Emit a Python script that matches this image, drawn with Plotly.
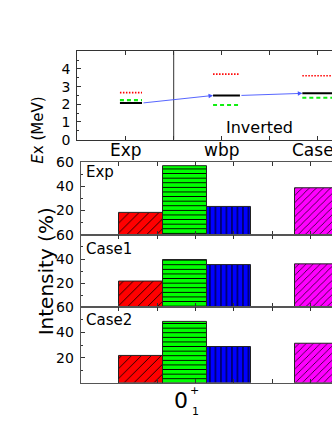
import plotly.graph_objects as go

# ---------------- data ----------------
level_cats = ["Exp", "wbp", "Case1"]
level_red = [2.66, 3.71, 3.62]      # dotted red levels (MeV)
level_green = [2.24, 1.96, 2.37]    # dashed green levels (MeV)
level_black = [2.07, 2.50, 2.62]    # solid black levels (MeV)

panel_names = ["Exp", "Case1", "Case2"]
red_vals = [18.5, 21.8, 21.8]
green_vals = [57.0, 39.6, 48.9]
blue_vals = [23.4, 35.4, 28.9]
magenta_vals = [38.8, 36.0, 31.5]

# ---------------- style ----------------
W, H = 332, 430
FONT = "DejaVu Sans, Liberation Sans, Arial"
AX = "#333333"
LEVEL_OFF0 = [-0.06, -0.09, -0.16]
LEVEL_OFF1 = [0.17, 0.19, 0.16]
BAR_POS = {"red": -1, "green": 0, "blue": 1, "magenta": 3}


def py(px):
    return 1 - px / H


fig = go.Figure()

# ----- top panel : levels -----
def seg(vals):
    xs, ys = [], []
    for i, v in enumerate(vals):
        xs += [i + LEVEL_OFF0[i], i + LEVEL_OFF1[i], None]
        ys += [v, v, None]
    return xs, ys

for vals, col, dash, w in [(level_red, "#ff0000", "1.5px,1.5px", 1.6),
                           (level_green, "#11ee11", "4px,3px", 2.2),
                           (level_black, "#000000", "solid", 2.0)]:
    xs, ys = seg(vals)
    fig.add_trace(go.Scatter(x=xs, y=ys, mode="lines", xaxis="x", yaxis="y",
                             line=dict(color=col, dash=dash, width=w),
                             showlegend=False, hoverinfo="skip"))

# arrows linking black levels
for i in range(len(level_black) - 1):
    fig.add_annotation(x=i + 1 + LEVEL_OFF0[i + 1], y=level_black[i + 1],
                       ax=i + LEVEL_OFF1[i], ay=level_black[i],
                       xref="x", yref="y", axref="x", ayref="y",
                       text="", showarrow=True, arrowhead=2, arrowsize=1,
                       arrowwidth=0.9, arrowcolor="#4455ff")

# divider
fig.add_shape(type="line", x0=0.5, x1=0.5, y0=0, y1=1, xref="x", yref="y domain",
              line=dict(color=AX, width=1))

fig.add_annotation(x=1.39, y=0.66, xref="x", yref="y", text="Inverted",
                   showarrow=False, font=dict(family=FONT, size=16, color="black"))

# category labels under the top panel
for i, c in enumerate(level_cats):
    fig.add_annotation(x=i, y=py(147.5), xref="x", yref="paper", text=c,
                       showarrow=False, yanchor="middle",
                       font=dict(family=FONT, size=17, color="black"))

# ----- bottom panels : bars -----
colors = {"red": "#ff0000", "green": "#00ff00", "blue": "#0000ff", "magenta": "#ff00ff"}
patterns = {"red": ("/", 7, 0.12), "green": ("-", 4.6, 0.2),
            "blue": ("|", 5.5, 0.18), "magenta": ("/", 5, 0.14)}
series = {"red": red_vals, "green": green_vals, "blue": blue_vals, "magenta": magenta_vals}

for p in range(3):
    xa = "x%d" % (p + 2)
    ya = "y%d" % (p + 2)
    for key in ["red", "green", "blue", "magenta"]:
        shp, sz, sol = patterns[key]
        fig.add_trace(go.Bar(x=[BAR_POS[key]], y=[series[key][p]], width=1,
                             xaxis=xa, yaxis=ya, showlegend=False, hoverinfo="skip",
                             marker=dict(color=colors[key],
                                         line=dict(color="#222222", width=1),
                                         pattern=dict(shape=shp, size=sz, solidity=sol,
                                                      fgcolor="black", bgcolor=colors[key],
                                                      fillmode="replace"))))

# ---------------- layout ----------------
top_x = dict(domain=[77.3 / W, 1], range=[-0.504, 2.149], tickmode="array",
             tickvals=[0, 1, 2], ticktext=level_cats, showticklabels=False,
             ticks="inside", ticklen=4,
             tickcolor=AX, showline=True, linecolor=AX, linewidth=1, mirror="ticks",
             showgrid=False, zeroline=False,
             minor=dict(dtick=0.5, tick0=0, ticks="inside", ticklen=4, tickcolor=AX))
top_y = dict(domain=[py(136.7), py(45)], range=[0, 5], tickmode="array",
             tickvals=[0, 1, 2, 3, 4], ticks="inside", ticklen=4, tickcolor=AX,
             showline=True, linecolor=AX, linewidth=1, showgrid=False, zeroline=False,
             ticklabelstandoff=3, anchor="x",
             tickfont=dict(family=FONT, size=14, color="black"),
             minor=dict(dtick=0.5, tick0=0, ticks="inside", ticklen=2, tickcolor=AX))

layout = dict(width=W, height=H, margin=dict(l=0, r=0, t=0, b=0),
              paper_bgcolor="white", plot_bgcolor="white", barmode="overlay",
              xaxis=top_x, yaxis=top_y, font=dict(family=FONT))

panel_px = [(160.0, 235.6), (235.6, 311.0), (311.0, 389.3)]
for p, (t, b) in enumerate(panel_px):
    n = p + 2
    layout["xaxis%d" % n] = dict(domain=[80.7 / W, 1], range=[-2.359, 3.352],
                                 anchor="y%d" % n, tickmode="linear", tick0=-2.359,
                                 dtick=0.87, ticks="inside", ticklen=4, tickcolor=AX,
                                 showticklabels=False, showline=True, linecolor="#555555",
                                 linewidth=1, mirror="ticks", showgrid=False,
                                 zeroline=False)
    layout["yaxis%d" % n] = dict(domain=[py(b), py(t)], range=[0, 60], anchor="x%d" % n,
                                 tickmode="array", tickvals=[20, 40, 60], ticks="inside",
                                 ticklen=4, tickcolor=AX, showline=True,
                                 linecolor="#555555", linewidth=1, showgrid=False,
                                 zeroline=False, ticklabelstandoff=3,
                                 tickfont=dict(family=FONT, size=14, color="black"),
                                 minor=dict(dtick=10, tick0=0, ticks="inside", ticklen=2,
                                            tickcolor=AX))

fig.update_layout(**layout)

# panel labels
label_y = [170.5, 250.5, 324.0]
for p, name in enumerate(panel_names):
    fig.add_annotation(x=84 / W, y=py(label_y[p]), xref="paper", yref="paper",
                       xanchor="left", yanchor="middle", text=name, showarrow=False,
                       font=dict(family=FONT, size=15, color="black"))

# axis titles
fig.add_annotation(x=27.5 / W, y=py(90), xref="paper", yref="paper", textangle=-90,
                   text="<i>E</i>x (MeV)", showarrow=False,
                   font=dict(family=FONT, size=15, color="black"))
fig.add_annotation(x=31.5 / W, y=py(274), xref="paper", yref="paper", textangle=-90,
                   text="Intensity (%)", showarrow=False,
                   font=dict(family=FONT, size=20, color="black"))

# 0_1^+ label
fig.add_annotation(x=181 / W, y=py(408), xref="paper", yref="paper", yanchor="middle",
                   text="0", showarrow=False, font=dict(family=FONT, size=22, color="black"))
fig.add_annotation(x=194.5 / W, y=py(397), xref="paper", yref="paper", yanchor="middle",
                   text="+", showarrow=False, font=dict(family=FONT, size=11, color="black"))
fig.add_annotation(x=195.5 / W, y=py(419), xref="paper", yref="paper", yanchor="middle",
                   text="1", showarrow=False, font=dict(family=FONT, size=11, color="black"))

fig.write_html("out.html", config={"displayModeBar": False},
               post_script="document.body.style.margin='0';"
                           "document.body.style.padding='0';"
                           "document.body.style.overflow='hidden';")
